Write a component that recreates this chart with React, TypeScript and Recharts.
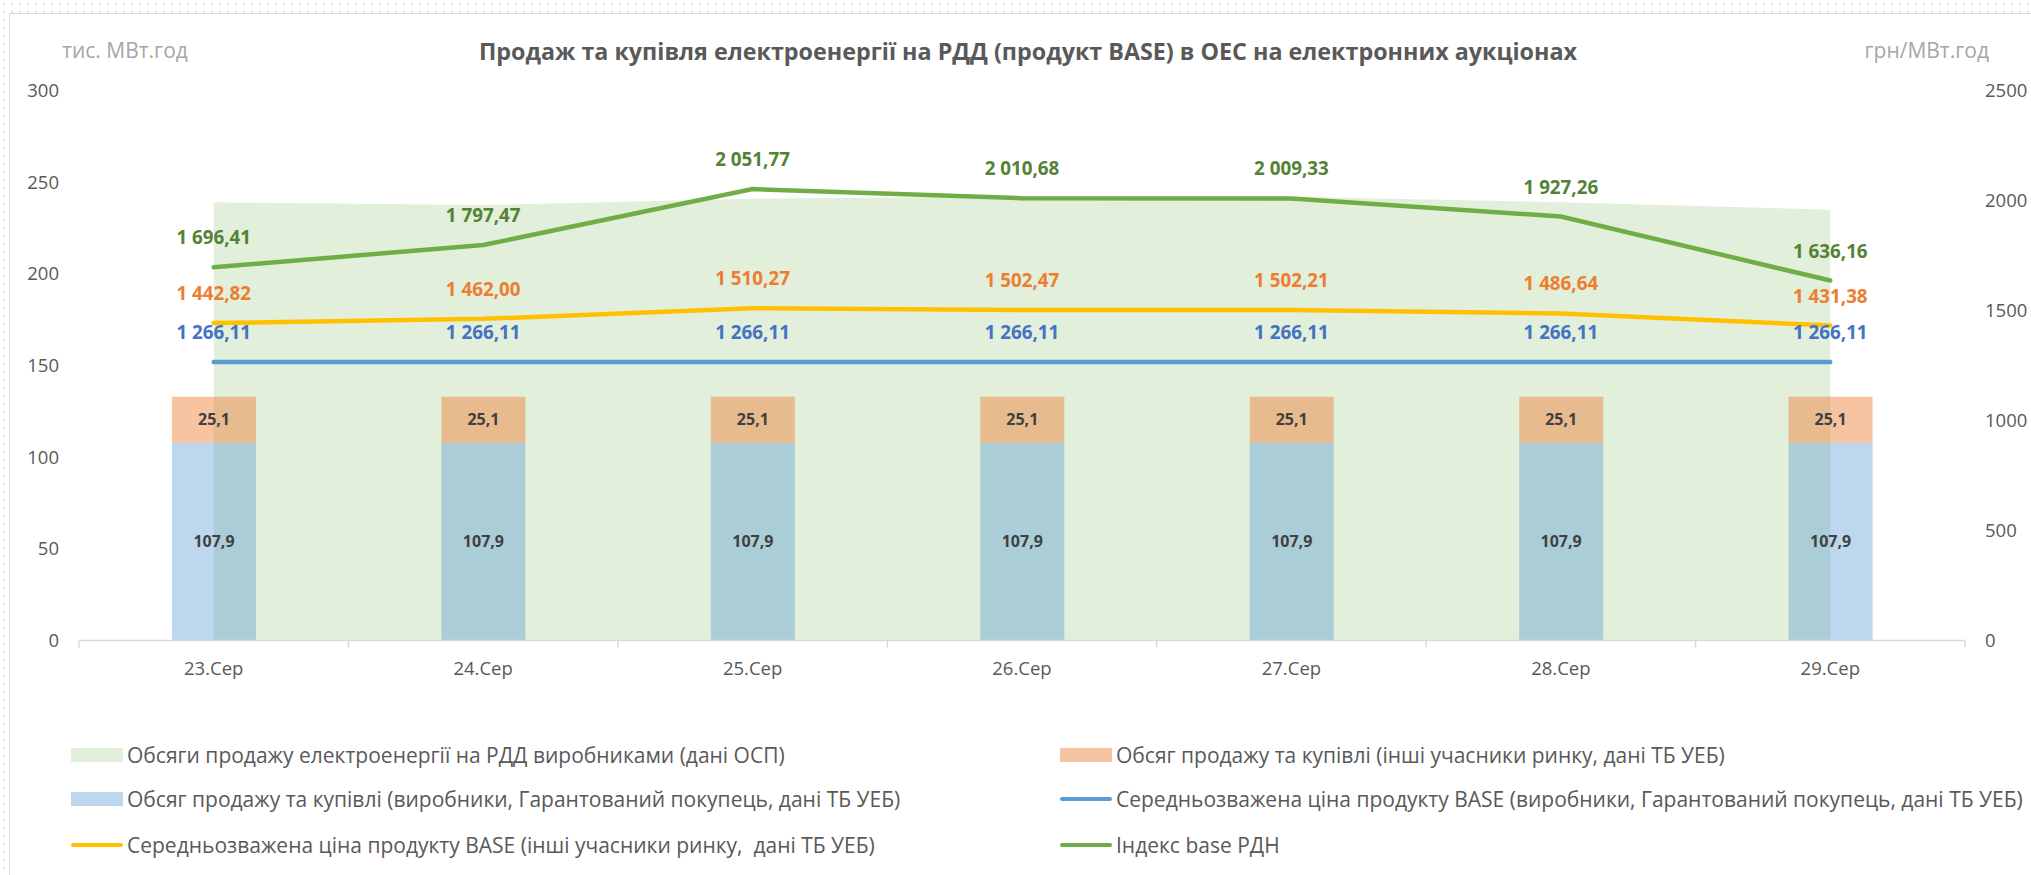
import React from 'react';
import { ComposedChart, Bar, Area, Line, XAxis, YAxis, LabelList, Legend } from 'recharts';

const categories = ['23.Сер', '24.Сер', '25.Сер', '26.Сер', '27.Сер', '28.Сер', '29.Сер'];
const salesOSP = [239, 237.5, 241, 242, 242, 239, 235];
const volumeProducers = [107.9, 107.9, 107.9, 107.9, 107.9, 107.9, 107.9];
const volumeOthers = [25.1, 25.1, 25.1, 25.1, 25.1, 25.1, 25.1];
const priceProducers = [1266.11, 1266.11, 1266.11, 1266.11, 1266.11, 1266.11, 1266.11];
const priceOthers = [1442.82, 1462.0, 1510.27, 1502.47, 1502.21, 1486.64, 1431.38];
const indexBase = [1696.41, 1797.47, 2051.77, 2010.68, 2009.33, 1927.26, 1636.16];
const leftTicks = [0, 50, 100, 150, 200, 250, 300];
const rightTicks = [0, 500, 1000, 1500, 2000, 2500];

const legendLabels = [
  'Обсяги продажу електроенергії на РДД виробниками (дані ОСП)',
  'Обсяг продажу та купівлі (інші учасники ринку, дані ТБ УЕБ)',
  'Обсяг продажу та купівлі (виробники, Гарантований покупець, дані ТБ УЕБ)',
  'Середньозважена ціна продукту BASE (виробники, Гарантований покупець, дані ТБ УЕБ)',
  'Середньозважена ціна продукту BASE (інші учасники ринку,  дані ТБ УЕБ)',
  'Індекс base РДН',
];
const legendKinds = ['rect', 'rect', 'rect', 'line', 'line', 'line'];
const legendColors = ['#E2EFDA', '#F6C4A2', '#BDD7EE', '#5B9BD5', '#FFC000', '#70AD47'];

const data = categories.map((c, i) => ({
  c,
  osp: salesOSP[i],
  prod: volumeProducers[i],
  oth: volumeOthers[i],
  pp: priceProducers[i],
  po: priceOthers[i],
  idx: indexBase[i],
}));

const FONT = '"Open Sans", "Noto Sans", sans-serif';
const TICK_MARGIN = 15;
const TICK_SIZE = 6;

const fmt2 = (v: any) => {
  const [i, d] = Number(v).toFixed(2).split('.');
  return i.replace(/\B(?=(\d{3})+(?!\d))/g, ' ') + ',' + d;
};
const fmt1 = (v: any) => Number(v).toFixed(1).replace('.', ',');

const CategoryTick = (props: any) => {
  const { x, y, payload, index, visibleTicksCount, width } = props;
  const half = payload && payload.offset ? payload.offset : width / visibleTicksCount / 2;
  const axisY = y - TICK_SIZE - TICK_MARGIN;
  const left = payload.coordinate - half;
  const right = payload.coordinate + half;
  return (
    <g>
      <line x1={left} x2={left} y1={axisY} y2={axisY + 7} stroke="#D9D9D9" strokeWidth={1.5} />
      {index === visibleTicksCount - 1 && (
        <line x1={right} x2={right} y1={axisY} y2={axisY + 7} stroke="#D9D9D9" strokeWidth={1.5} />
      )}
      <text x={x} y={y} dy="0.71em" textAnchor="middle" fill="#595959" fontSize={18.5} fontFamily={FONT}>
        {payload.value}
      </text>
    </g>
  );
};

const LegendContent = () => (
  <div style={{ position: 'relative', width: 2031, height: 140, fontFamily: FONT }}>
    {legendLabels.map((label, i) => {
      const col = i % 2;
      const row = Math.floor(i / 2);
      const left = col === 0 ? 71 : 1060;
      const top = [25, 69, 115][row];
      return (
        <div key={i} style={{ position: 'absolute', left, top: top - 15, height: 30, display: 'flex', alignItems: 'center', whiteSpace: 'pre' }}>
          {legendKinds[i] === 'rect' ? (
            <div style={{ width: 52, height: 14, background: legendColors[i] }} />
          ) : (
            <div style={{ width: 52, height: 4, borderRadius: 2, background: legendColors[i] }} />
          )}
          <span style={{ marginLeft: 4, fontSize: 21, color: '#595959', whiteSpace: 'pre' }}>{label}</span>
        </div>
      );
    })}
  </div>
);

export default function App() {
  return (
    <div
      style={{
        position: 'absolute',
        left: 0,
        top: 0,
        width: 2031,
        height: 875,
        overflow: 'hidden',
        background: '#fff',
        backgroundImage: 'radial-gradient(circle, #DCE3EC 1px, transparent 1.5px)',
        backgroundSize: '8px 8px',
        fontFamily: FONT,
      }}
    >
      <div
        style={{
          position: 'absolute',
          left: 9,
          top: 13,
          width: 2040,
          height: 880,
          background: '#fff',
          border: '1px solid #D9D9D9',
        }}
      />
      <div style={{ position: 'absolute', left: 0, top: 0 }}>
        <ComposedChart
          width={2031}
          height={875}
          data={data}
          margin={{ top: 90.5, right: 6, bottom: 194.5, left: 19 }}
        >
          <XAxis
            dataKey="c"
            height={40}
            interval={0}
            axisLine={{ stroke: '#D9D9D9', strokeWidth: 1.5 }}
            tickLine={false}
            tickSize={TICK_SIZE}
            tickMargin={TICK_MARGIN}
            tick={<CategoryTick />}
          />
          <YAxis
            yAxisId="left"
            domain={[0, 300]}
            ticks={leftTicks}
            width={60}
            axisLine={false}
            tickLine={false}
            tickMargin={14}
            tick={{ fill: '#595959', fontSize: 18.5, fontFamily: FONT }}
          />
          <YAxis
            yAxisId="right"
            orientation="right"
            domain={[0, 2500]}
            ticks={rightTicks}
            width={60}
            axisLine={false}
            tickLine={false}
            tickMargin={14}
            tick={{ fill: '#595959', fontSize: 18.5, fontFamily: FONT, textAnchor: 'start' }}
          />
          <Area
            yAxisId="left"
            type="linear"
            dataKey="osp"
            fill="#70AD47"
            fillOpacity={0.2}
            stroke="none"
            isAnimationActive={false}
          />
          <Bar yAxisId="left" dataKey="prod" stackId="s" fill="#5B9BD5" fillOpacity={0.4} barSize={84} isAnimationActive={false}>
            <LabelList dataKey="prod" position="center" formatter={fmt1} fill="#404040" fillOpacity={1} fontSize={16} fontWeight={700} fontFamily={FONT} />
          </Bar>
          <Bar yAxisId="left" dataKey="oth" stackId="s" fill="#ED7D31" fillOpacity={0.45} barSize={84} isAnimationActive={false}>
            <LabelList dataKey="oth" position="center" formatter={fmt1} fill="#404040" fillOpacity={1} fontSize={16} fontWeight={700} fontFamily={FONT} />
          </Bar>
          <Line yAxisId="right" type="linear" dataKey="pp" stroke="#5B9BD5" strokeWidth={4.5} strokeLinecap="round" dot={false} isAnimationActive={false}>
            <LabelList dataKey="pp" position="top" offset={23} formatter={fmt2} fill="#4472C4" fontSize={18.8} fontWeight={700} fontFamily={FONT} />
          </Line>
          <Line yAxisId="right" type="linear" dataKey="po" stroke="#FFC000" strokeWidth={4.5} strokeLinecap="round" dot={false} isAnimationActive={false}>
            <LabelList dataKey="po" position="top" offset={23} formatter={fmt2} fill="#ED7D31" fontSize={18.8} fontWeight={700} fontFamily={FONT} />
          </Line>
          <Line yAxisId="right" type="linear" dataKey="idx" stroke="#70AD47" strokeWidth={4.5} strokeLinecap="round" dot={false} isAnimationActive={false}>
            <LabelList dataKey="idx" position="top" offset={23} formatter={fmt2} fill="#548235" fontSize={18.8} fontWeight={700} fontFamily={FONT} />
          </Line>
          <Legend
            layout="horizontal"
            verticalAlign="middle"
            align="center"
            wrapperStyle={{ left: 0, top: 730, width: 2031, height: 140 }}
            content={LegendContent}
          />
        </ComposedChart>
      </div>
      <div style={{ position: 'absolute', left: 0, width: 2056, top: 35, textAlign: 'center', fontSize: 23.3, fontWeight: 700, color: '#595959', whiteSpace: 'nowrap' }}>
        Продаж та купівля електроенергії на РДД (продукт BASE) в ОЕС на електронних аукціонах
      </div>
      <div style={{ position: 'absolute', left: 62, top: 36, fontSize: 21, color: '#A6A6A6', whiteSpace: 'nowrap' }}>тис. МВт.год</div>
      <div style={{ position: 'absolute', right: 42, top: 36, fontSize: 21, color: '#A6A6A6', whiteSpace: 'nowrap' }}>грн/МВт.год</div>
    </div>
  );
}
